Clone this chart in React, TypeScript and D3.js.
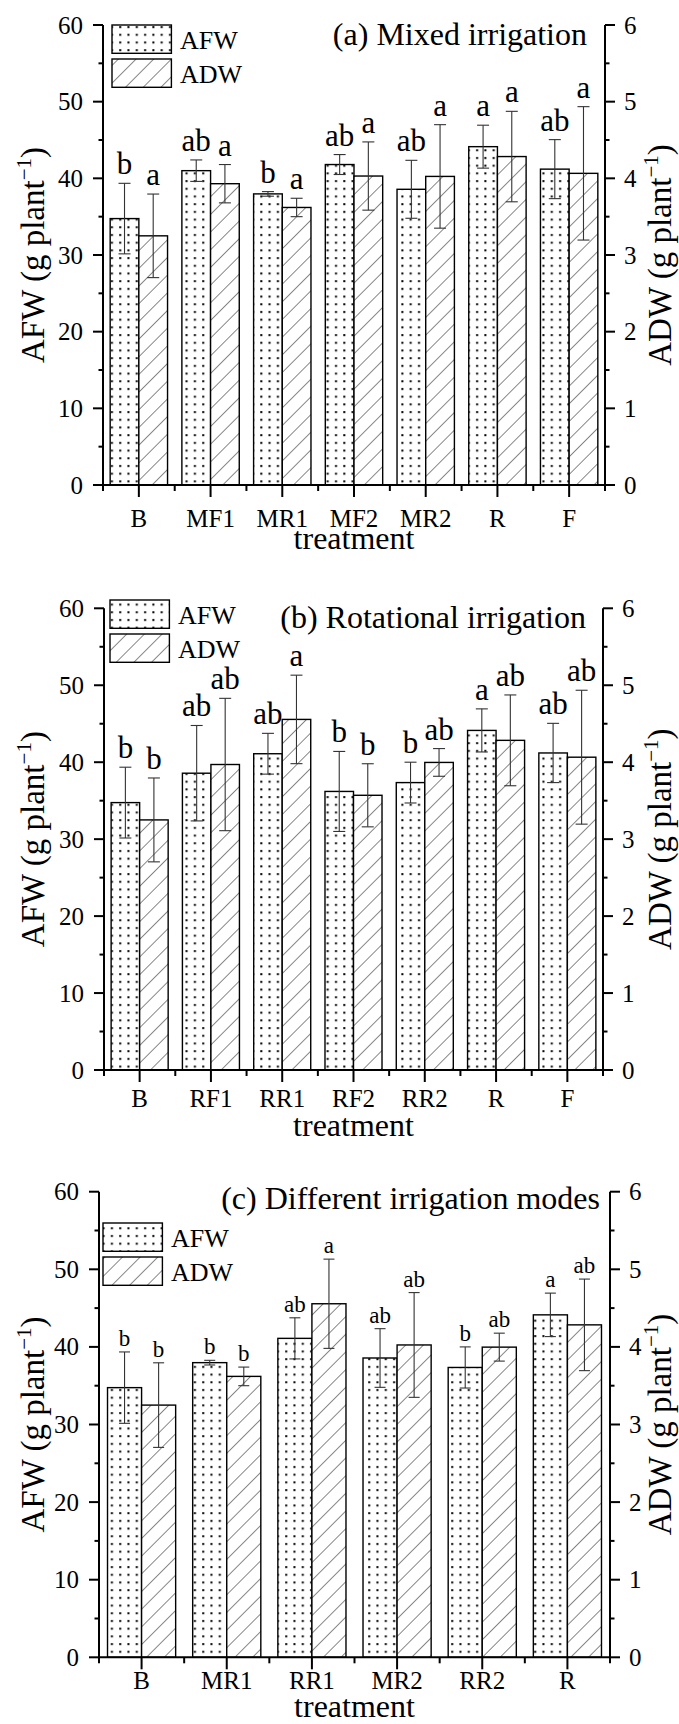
import React from "react";
import * as d3 from "d3";

// ---- data ----
const treatments = ["B", "MF1", "MR1", "MF2", "MR2", "RF1", "RR1", "RF2", "RR2", "R", "F"];
const afwMean = [34.75, 41.0, 37.97, 41.8, 38.57, 38.57, 41.1, 36.2, 37.35, 44.13, 41.2];
const afwErr = [4.6, 1.4, 0.3, 1.3, 3.78, 6.2, 2.65, 5.2, 2.65, 2.8, 3.85];
const adwMean = [3.25, 3.93, 3.62, 4.03, 4.025, 3.97, 4.556, 3.57, 3.997, 4.284, 4.065];
const adwErr = [0.545, 0.25, 0.12, 0.445, 0.675, 0.86, 0.575, 0.41, 0.18, 0.59, 0.87];

const catsA = ["B", "MF1", "MR1", "MF2", "MR2", "R", "F"];
const lettersAfwA = ["b", "ab", "b", "ab", "ab", "a", "ab"];
const lettersAdwA = ["a", "a", "a", "a", "a", "a", "a"];

const catsB = ["B", "RF1", "RR1", "RF2", "RR2", "R", "F"];
const lettersAfwB = ["b", "ab", "ab", "b", "b", "a", "ab"];
const lettersAdwB = ["b", "ab", "a", "b", "ab", "ab", "ab"];

const catsC = ["B", "MR1", "RR1", "MR2", "RR2", "R"];
const lettersAfwC = ["b", "b", "ab", "ab", "b", "a"];
const lettersAdwC = ["b", "b", "a", "ab", "ab", "ab"];

const titles = ["(a) Mixed irrigation", "(b) Rotational irrigation", "(c) Different irrigation modes"];
const leftTicks = [0, 10, 20, 30, 40, 50, 60];
const rightTicks = [0, 1, 2, 3, 4, 5, 6];
const seriesNames = ["AFW", "ADW"];

// ---- layout ----
const W = 679;
const H = 1724;
const FONT = "'Liberation Serif', 'Times New Roman', serif";

const layouts = [
  { left: 103, right: 605, top: 25, bottom: 485, titleX: 587, titleY: 45, legX: 112, legY: 25, tickDy: 42, xTitleDy: 64, letterFont: 31, letterGap: 9, cap: 12 },
  { left: 104, right: 603, top: 608.3, bottom: 1070, titleX: 586, titleY: 628, legX: 110, legY: 600, tickDy: 37, xTitleDy: 66, letterFont: 31, letterGap: 9, cap: 12 },
  { left: 99, right: 610, top: 1191.7, bottom: 1657.3, titleX: 600, titleY: 1209, legX: 103, legY: 1223, tickDy: 32, xTitleDy: 60, letterFont: 23, letterGap: 6, cap: 11 },
];

const panels = [
  { cats: catsA, la: lettersAfwA, ld: lettersAdwA },
  { cats: catsB, la: lettersAfwB, ld: lettersAdwB },
  { cats: catsC, la: lettersAfwC, ld: lettersAdwC },
];

function Panel({ idx }: { idx: number }) {
  const L = layouts[idx];
  const P = panels[idx];
  const x = d3.scaleBand<string>().domain(P.cats).range([L.left, L.right]).paddingInner(0).paddingOuter(0);
  const bw = x.bandwidth();
  const inner = d3.scaleBand<string>().domain(seriesNames).range([bw * 0.1, bw * 0.9]).padding(0);
  const yL = d3.scaleLinear().domain([0, 60]).range([L.bottom, L.top]);
  const yR = d3.scaleLinear().domain([0, 6]).range([L.bottom, L.top]);
  const minorL = d3.range(5, 60, 10);
  const minorR = d3.range(0.5, 6, 1);
  const midY = (L.top + L.bottom) / 2;
  const midX = (L.left + L.right) / 2;
  const bounds = P.cats.map((c) => x(c) as number).concat([L.right]);

  const bars: any[] = [];
  P.cats.forEach((c, i) => {
    const k = treatments.indexOf(c);
    const items = [
      { s: "AFW", v: afwMean[k], e: afwErr[k], sc: yL, pat: "url(#dots)", lab: P.la[i] },
      { s: "ADW", v: adwMean[k], e: adwErr[k], sc: yR, pat: "url(#hatch)", lab: P.ld[i] },
    ];
    items.forEach((it) => {
      const bx = (x(c) as number) + (inner(it.s) as number);
      const w = inner.bandwidth();
      const yTop = it.sc(it.v);
      const cx = bx + w / 2;
      const eHi = it.sc(it.v + it.e);
      const eLo = it.sc(it.v - it.e);
      bars.push(
        <g key={c + it.s}>
          <rect x={bx} y={yTop} width={w} height={L.bottom - yTop} fill="#fff" />
          <rect x={bx} y={yTop} width={w} height={L.bottom - yTop} fill={it.pat} stroke="#000" strokeWidth={1.4} />
          <line x1={cx} x2={cx} y1={eHi} y2={eLo} stroke="#333" strokeWidth={1.1} />
          <line x1={cx - L.cap / 2} x2={cx + L.cap / 2} y1={eHi} y2={eHi} stroke="#333" strokeWidth={1.1} />
          <line x1={cx - L.cap / 2} x2={cx + L.cap / 2} y1={eLo} y2={eLo} stroke="#333" strokeWidth={1.1} />
          <text x={cx} y={eHi - L.letterGap} textAnchor="middle" fontSize={L.letterFont} fontFamily={FONT}>
            {it.lab}
          </text>
        </g>
      );
    });
  });

  const boxW = 59.4;
  const boxH = 28.3;

  return (
    <g>
      {bars}
      {/* left axis */}
      <line x1={L.left} x2={L.left} y1={L.top} y2={L.bottom} stroke="#000" strokeWidth={2} />
      {leftTicks.map((t) => (
        <g key={"l" + t}>
          <line x1={L.left - 10} x2={L.left} y1={yL(t)} y2={yL(t)} stroke="#000" strokeWidth={2} />
          <text x={L.left - 20} y={yL(t) + 8.5} textAnchor="end" fontSize={25} fontFamily={FONT}>
            {t}
          </text>
        </g>
      ))}
      {minorL.map((t) => (
        <line key={"lm" + t} x1={L.left - 4.5} x2={L.left} y1={yL(t)} y2={yL(t)} stroke="#000" strokeWidth={2} />
      ))}
      {/* right axis */}
      <line x1={L.right} x2={L.right} y1={L.top} y2={L.bottom} stroke="#000" strokeWidth={2} />
      {rightTicks.map((t) => (
        <g key={"r" + t}>
          <line x1={L.right} x2={L.right + 10} y1={yR(t)} y2={yR(t)} stroke="#000" strokeWidth={2} />
          <text x={L.right + 19} y={yR(t) + 8.5} textAnchor="start" fontSize={25} fontFamily={FONT}>
            {t}
          </text>
        </g>
      ))}
      {minorR.map((t) => (
        <line key={"rm" + t} x1={L.right} x2={L.right + 4.5} y1={yR(t)} y2={yR(t)} stroke="#000" strokeWidth={2} />
      ))}
      {/* x axis */}
      <line x1={L.left} x2={L.right} y1={L.bottom} y2={L.bottom} stroke="#000" strokeWidth={2} />
      {P.cats.map((c) => {
        const cx = (x(c) as number) + bw / 2;
        return (
          <g key={"x" + c}>
            <line x1={cx} x2={cx} y1={L.bottom} y2={L.bottom + 12} stroke="#000" strokeWidth={2} />
            <text x={cx} y={L.bottom + L.tickDy} textAnchor="middle" fontSize={25} fontFamily={FONT}>
              {c}
            </text>
          </g>
        );
      })}
      {bounds.map((b, i) => (
        <line key={"xb" + i} x1={b} x2={b} y1={L.bottom} y2={L.bottom + 6} stroke="#000" strokeWidth={2} />
      ))}
      <text x={midX} y={L.bottom + L.xTitleDy} textAnchor="middle" fontSize={32} fontFamily={FONT}>
        treatment
      </text>
      {/* y labels */}
      <text transform={`translate(44,${midY}) rotate(-90)`} textAnchor="middle" fontSize={33} fontFamily={FONT}>
        AFW (g plant<tspan dy={-13} fontSize={21}>−1</tspan>
        <tspan dy={13}>)</tspan>
      </text>
      <text transform={`translate(671,${midY}) rotate(-90)`} textAnchor="middle" fontSize={33} fontFamily={FONT}>
        ADW (g plant<tspan dy={-13} fontSize={21}>−1</tspan>
        <tspan dy={13}>)</tspan>
      </text>
      {/* title */}
      <text x={L.titleX} y={L.titleY} textAnchor="end" fontSize={32} fontFamily={FONT}>
        {titles[idx]}
      </text>
      {/* legend */}
      {seriesNames.map((s, i) => (
        <g key={"lg" + s}>
          <rect x={L.legX} y={L.legY + i * 34} width={boxW} height={boxH} fill="#fff" />
          <rect
            x={L.legX}
            y={L.legY + i * 34}
            width={boxW}
            height={boxH}
            fill={i === 0 ? "url(#dots)" : "url(#hatch)"}
            stroke="#000"
            strokeWidth={1.4}
          />
          <text x={L.legX + boxW + 8.5} y={L.legY + i * 34 + 24} fontSize={26} fontFamily={FONT}>
            {s}
          </text>
        </g>
      ))}
    </g>
  );
}

export default function App() {
  return (
    <div>
      <style>{`body{margin:0}`}</style>
      <svg width={W} height={H} viewBox={`0 0 ${W} ${H}`} style={{ display: "block", background: "#fff" }}>
        <defs>
          <pattern id="dots" patternUnits="userSpaceOnUse" width={8.3} height={7.7}>
            <rect x={3} y={3} width={2} height={2} fill="#000" />
          </pattern>
          <pattern id="hatch" patternUnits="userSpaceOnUse" width={12.5} height={12.5} patternTransform="rotate(45)">
            <line x1={0} y1={-1} x2={0} y2={14} stroke="#111" strokeWidth={1} />
          </pattern>
        </defs>
        <rect x={0} y={0} width={W} height={H} fill="#fff" />
        {[0, 1, 2].map((i) => (
          <Panel key={i} idx={i} />
        ))}
      </svg>
    </div>
  );
}
